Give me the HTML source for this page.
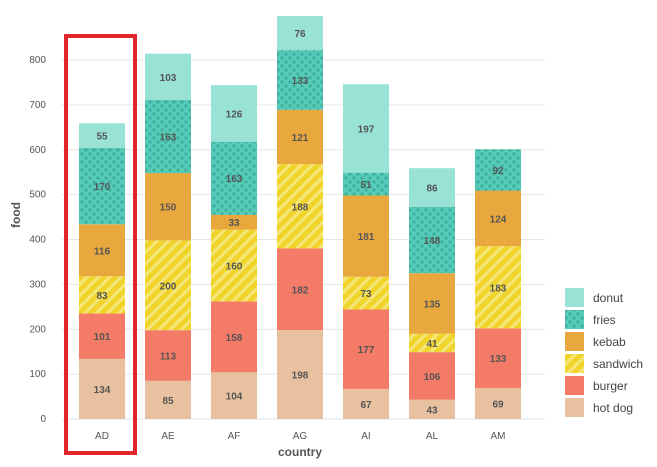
<!DOCTYPE html>
<html><head><meta charset="utf-8"><style>
body{margin:0;background:#fff;font-family:"Liberation Sans",sans-serif}
svg text{font-family:"Liberation Sans",sans-serif}
</style></head><body>
<svg width="657" height="462">
<defs>
<pattern id="dots" width="8" height="8" patternUnits="userSpaceOnUse">
<rect width="8" height="8" fill="#55cbb8"/><circle cx="2" cy="2" r="1.6" fill="#3fae9c"/><circle cx="6" cy="6" r="1.6" fill="#3fae9c"/></pattern>
<pattern id="stripes" width="8" height="8" patternUnits="userSpaceOnUse" patternTransform="rotate(45)">
<rect width="8" height="8" fill="#f0d42c"/><rect width="3" height="8" fill="#f5e67a"/></pattern>
</defs>
<g id="grid"></g><g id="bars"></g>
<text x="20" y="215" transform="rotate(-90 20 215)" text-anchor="middle" font-size="12" font-weight="bold" fill="#555">food</text>
<text x="300" y="456" text-anchor="middle" font-size="12" font-weight="bold" fill="#555">country</text>
<rect x="66" y="36" width="69" height="417" fill="none" stroke="#e0262a" stroke-width="4"/>
<g id="legend"></g>
</svg>
<script>
const categories=["AD","AE","AF","AG","AI","AL","AM"];
const seriesNames=["hot dog","burger","sandwich","kebab","fries","donut"];
const hotdog=[134,85,104,198,67,43,69];
const burger=[101,113,158,182,177,106,133];
const sandwich=[83,200,160,188,73,41,183];
const kebab=[116,150,33,121,181,135,124];
const fries=[170,163,163,133,51,148,0];
const fries2=[170,163,163,133,51,148,92];
const donut=[55,103,126,76,197,86,0];
const yTicks=[0,100,200,300,400,500,600,700,800];
const series=[hotdog,burger,sandwich,kebab,fries2,donut];
const fills=["#e8c2a0","#f47b68","url(#stripes)","#e8a83d","url(#dots)","#98e3d6"];
const legendFills=["#98e3d6","url(#dots)","#e8a83d","url(#stripes)","#f47b68","#e8c2a0"];
const legendNames=["donut","fries","kebab","sandwich","burger","hot dog"];
const ns="http://www.w3.org/2000/svg";
const y=v=>419-v*359/800, x=i=>102+i*66, bw=46;
function mk(t,a,p){const e=document.createElementNS(ns,t);for(const k in a)e.setAttribute(k,a[k]);p.appendChild(e);return e;}
const g=document.getElementById('grid');
yTicks.forEach(t=>{
 const l=mk('line',{x1:62,x2:545,y1:y(t),y2:y(t),stroke:'#e6e6e6','stroke-width':1},g);
 
 
 const tx=mk('text',{x:46,y:y(t)+3,'text-anchor':'end','font-size':10,fill:'#555'},g);
 tx.textContent=t;
 
 
});
const b=document.getElementById('bars');
categories.forEach((c,i)=>{
 let acc=0;
 series.forEach((s,j)=>{
  const v=s[i]; if(!v)return;
  const r=mk('rect',{x:x(i)-bw/2,y:y(acc+v),width:bw,height:y(acc)-y(acc+v),fill:fills[j]},b);
  
  
  const t=mk('text',{x:x(i),y:(y(acc)+y(acc+v))/2+4,'text-anchor':'middle','font-size':10,'font-weight':'bold',fill:'#555'},b);
  t.textContent=v;
  
  
  acc+=v;
 });
 const t=mk('text',{x:x(i),y:439,'text-anchor':'middle','font-size':10,fill:'#555'},b);
 t.textContent=c;
 
 
});
const lg=document.getElementById('legend');
legendNames.forEach((n,i)=>{
 const yy=288+i*22;
 const r=mk('rect',{x:565,y:yy,width:19,height:19,fill:legendFills[i]},lg);
 
 
 const t=mk('text',{x:593,y:yy+14,'font-size':12,fill:'#444'},lg);
 t.textContent=n;
 
 
});
</script>
</body></html>
